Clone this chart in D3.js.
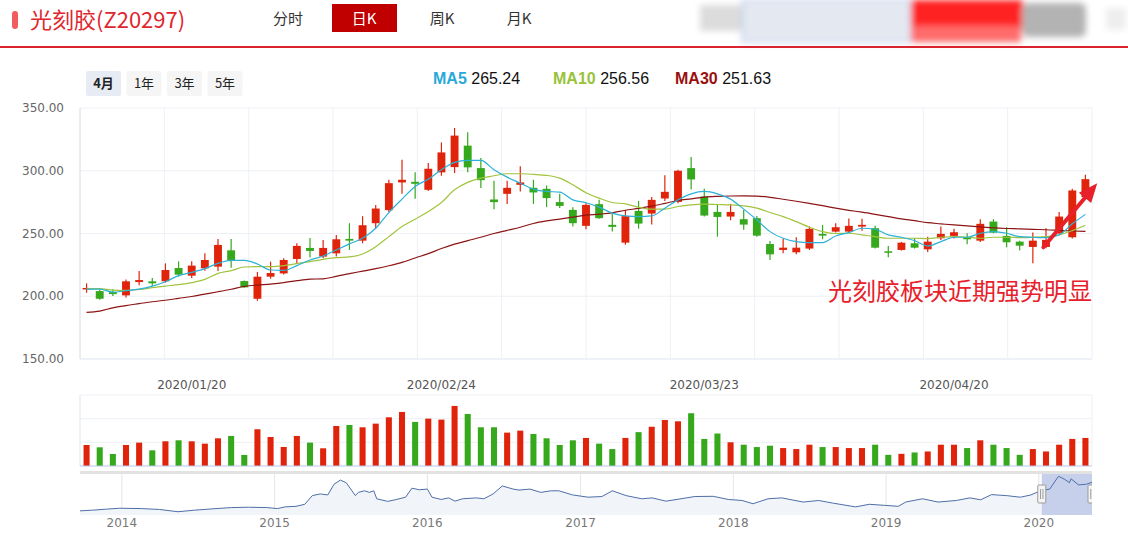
<!DOCTYPE html>
<html>
<head>
<meta charset="utf-8">
<script src="https://cdn.jsdelivr.net/npm/d3@7"></script>
<style>
body { margin: 0; background: #fff; }
svg { display: block; font-family: "Noto Sans CJK SC", "Noto Sans", sans-serif; }
</style>
</head>
<body>
<div id="chart"></div>
<script>
// ---- data ----
var dates = [
  "2020/01/08","2020/01/09","2020/01/10","2020/01/13","2020/01/14","2020/01/15","2020/01/16","2020/01/17","2020/01/20","2020/01/21","2020/01/22","2020/01/23",
  "2020/02/03","2020/02/04","2020/02/05","2020/02/06","2020/02/07","2020/02/10","2020/02/11","2020/02/12","2020/02/13","2020/02/14","2020/02/17","2020/02/18","2020/02/19","2020/02/20","2020/02/21","2020/02/24","2020/02/25","2020/02/26","2020/02/27","2020/02/28",
  "2020/03/02","2020/03/03","2020/03/04","2020/03/05","2020/03/06","2020/03/09","2020/03/10","2020/03/11","2020/03/12","2020/03/13","2020/03/16","2020/03/17","2020/03/18","2020/03/19","2020/03/20","2020/03/23","2020/03/24","2020/03/25","2020/03/26","2020/03/27","2020/03/30","2020/03/31",
  "2020/04/01","2020/04/02","2020/04/03","2020/04/07","2020/04/08","2020/04/09","2020/04/10","2020/04/13","2020/04/14","2020/04/15","2020/04/16","2020/04/17","2020/04/20","2020/04/21","2020/04/22","2020/04/23","2020/04/24","2020/04/27","2020/04/28","2020/04/29","2020/04/30",
  "2020/05/06","2020/05/07"
];
var open = [206.0,204.1,203.3,200.7,211.3,211.9,211.9,222.5,216.4,222.2,223.6,236.6,212.1,198.0,215.6,218.2,229.7,238.5,231.6,234.2,
  245.7,244.3,258.2,268.6,290.7,291.2,284.8,298.7,302.9,320.0,302.1,277.1,281.6,288.8,286.4,285.6,275.0,268.8,256.1,273.4,
  256.9,242.7,268.0,265.9,277.9,275.2,302.1,279.5,267.2,263.5,261.4,262.2,241.6,236.9,235.0,238.0,249.7,251.5,251.5,255.5,
  254.2,235.8,236.9,242.2,237.4,246.2,248.1,247.0,244.3,259.5,248.1,243.5,239.3,239.3,250.2,247.0,279.0];
var high = [210.3,205.0,205.5,213.4,220.1,214.5,226.2,227.8,227.8,234.2,245.7,245.7,212.6,219.3,227.6,230.2,242.2,246.5,244.9,248.9,
  258.2,263.8,272.8,292.8,308.8,298.9,306.1,322.6,334.1,330.6,310.1,292.0,292.0,303.5,292.8,288.3,281.6,271.0,274.2,276.8,
  265.6,268.8,276.0,279.0,296.5,300.8,310.9,285.6,273.4,273.6,268.8,264.0,244.1,245.7,247.0,255.5,256.9,258.2,261.9,261.7,
  256.1,240.1,243.3,246.5,247.5,255.5,253.7,250.2,261.4,261.4,255.0,244.3,250.7,254.2,267.2,285.6,296.8];
var low = [202.8,197.2,200.1,199.1,208.7,208.4,210.8,215.6,214.5,220.4,220.1,222.8,206.8,196.4,214.0,217.4,225.7,230.8,230.2,231.6,
  236.9,242.2,254.2,267.2,281.6,277.6,283.8,296.0,298.1,298.9,286.2,269.4,273.6,283.5,273.6,271.0,270.4,255.5,253.4,261.7,
  251.5,241.1,253.9,257.1,275.8,274.2,285.1,263.5,247.5,260.6,252.9,247.5,228.9,234.2,233.4,236.9,245.4,250.7,250.7,252.1,
  238.0,231.0,236.4,238.0,235.3,244.9,246.0,241.4,243.3,250.2,239.0,236.4,226.2,238.2,249.1,246.0,277.9];
var close = [206.6,198.0,201.7,211.9,212.9,210.3,220.9,217.2,224.4,228.9,240.9,228.9,207.1,215.6,218.5,228.9,240.1,236.1,238.5,245.4,
  244.3,256.6,269.9,290.1,292.8,289.6,301.6,314.6,328.0,302.7,292.5,275.0,286.4,290.7,282.7,278.2,272.0,258.2,272.8,262.2,
  255.3,263.8,257.9,276.8,283.2,300.0,293.1,264.3,263.2,267.2,257.1,248.3,233.4,238.7,238.7,253.7,248.3,255.0,256.1,256.9,
  238.7,234.8,242.7,238.7,243.5,249.7,251.0,245.4,257.7,250.7,243.0,240.3,244.3,244.9,263.5,284.3,293.3];
var volume = [44.4,39.5,25.4,44.4,49.4,33.1,52.2,54.3,52.2,47.2,58.5,63.5,23.3,77.6,61.3,40.2,63.5,49.4,37.4,84.6,
  86.7,81.8,89.5,102.9,114.2,93.1,100.1,98.0,126.9,110.0,81.8,81.8,70.5,74.7,67.7,58.5,44.4,54.3,59.3,47.2,
  35.8,59.3,71.5,82.9,97.2,94.4,111.5,57.2,68.6,50.1,45.0,40.0,42.9,37.9,35.8,45.0,40.0,40.0,37.9,37.9,
  45.0,23.6,25.7,28.6,30.7,45.0,45.0,37.9,54.3,45.0,37.9,23.6,35.8,30.7,45.0,57.2,59.3];
var ma5 = [205.7,205.7,203.3,204.4,205.7,208.1,211.6,216.4,219.0,222.0,226.2,228.6,228.6,225.7,220.9,220.6,224.4,228.9,232.1,236.9,
  241.7,246.2,254.2,266.7,277.4,287.5,293.3,300.8,306.7,308.3,308.3,300.8,294.9,290.1,285.4,283.5,283.0,276.8,274.5,271.0,
  266.2,264.0,263.5,264.0,270.2,276.8,281.6,283.5,281.6,277.4,269.4,260.9,251.5,246.2,243.5,242.7,242.7,248.0,250.7,254.2,
  253.4,248.9,247.0,244.3,240.1,243.5,247.0,247.0,250.2,251.5,250.2,247.5,247.0,246.7,248.9,257.7,265.24];
var ma10 = [206.0,206.0,204.9,204.7,205.5,206.8,208.1,209.2,210.8,213.4,218.2,220.4,223.3,223.6,223.6,224.4,226.0,227.6,229.4,230.8,
  231.3,233.7,239.5,247.5,255.5,261.4,267.5,274.7,284.8,290.7,294.1,296.0,297.6,297.6,297.1,296.3,294.1,288.8,282.5,278.2,
  274.7,273.6,271.0,269.4,269.4,271.5,272.8,273.4,273.1,272.8,272.0,270.2,266.7,263.5,259.5,255.0,251.5,250.0,250.2,248.9,
  247.5,246.2,246.2,246.2,245.9,247.0,247.5,247.0,246.2,247.0,247.0,246.7,247.0,247.5,248.9,252.3,256.56];
var ma30 = [187.2,188.2,190.8,192.6,194.1,195.6,196.8,198.3,199.8,201.7,203.6,205.6,207.8,208.9,209.6,210.9,212.4,213.6,213.9,215.8,
  218.0,220.0,222.0,224.3,227.0,230.5,234.0,238.0,241.5,244.3,247.0,250.0,252.5,255.0,258.0,260.0,261.5,263.0,264.6,265.4,
  266.5,268.5,270.0,271.8,274.0,276.3,277.6,279.0,279.6,279.9,280.0,279.8,278.8,277.3,275.7,274.0,272.2,270.2,268.5,267.0,
  265.3,263.5,261.7,260.2,258.6,257.7,256.8,256.0,255.3,254.5,254.0,253.7,253.3,253.0,252.5,252.0,251.63];

var priceTicks = [150, 200, 250, 300, 350];
var dateTicks = ["2020/01/20", "2020/02/24", "2020/03/23", "2020/04/20"];
var volumeTicks = [0, 50, 100, 150];

// long history for the zoom slider
var navDates = ["2013-09-23","2013-10-23","2013-11-25","2013-12-27","2014-02-17","2014-04-01","2014-05-15","2014-06-24","2014-08-07","2014-09-20",
  "2014-10-30","2014-12-13","2015-01-08","2015-01-26","2015-02-21","2015-03-14","2015-04-01","2015-04-20","2015-05-08","2015-05-23",
  "2015-06-07","2015-06-21","2015-07-13","2015-07-20","2015-08-04","2015-08-15","2015-08-26","2015-09-02","2015-09-28","2015-10-16",
  "2015-11-10","2015-11-25","2015-12-13","2016-01-01","2016-01-12","2016-02-03","2016-02-21","2016-03-07","2016-03-25","2016-04-27",
  "2016-05-15","2016-06-06","2016-06-28","2016-07-24","2016-08-07","2016-09-02","2016-09-28","2016-10-23","2016-11-10","2016-12-13",
  "2017-01-19","2017-02-21","2017-03-18","2017-04-20","2017-05-27","2017-06-21","2017-07-24","2017-08-29","2017-10-01","2017-11-14",
  "2017-12-20","2018-01-22","2018-02-17","2018-03-25","2018-04-27","2018-06-17","2018-07-24","2018-08-26","2018-10-20","2018-11-22",
  "2018-12-28","2019-01-30","2019-02-17","2019-03-29","2019-05-05","2019-06-18","2019-07-20","2019-08-15","2019-09-10","2019-10-16",
  "2019-11-18","2019-12-13","2020-01-05","2020-01-27","2020-02-17","2020-03-03","2020-03-14","2020-03-18","2020-04-05","2020-04-23","2020-05-07"];
var navClose = [37,43,52,60,57,49,29,43,55,66,
  69,66,57,72,77,95,172,187,178,273,
  310,287,172,201,215,201,215,144,121,135,
  158,238,224,230,158,138,152,123,144,152,
  144,187,258,230,221,230,201,215,215,178,
  158,164,215,172,144,152,123,144,164,166,
  138,129,100,144,152,115,129,106,72,95,
  86,77,115,144,115,129,152,135,181,172,
  158,178,215,230,344,316,287,321,267,273,290];

// ---- layout ----
var W = 1128, H = 533;
var plot = { left: 80, right: 1092, top: 108, bottom: 359 };
var vol = { top: 395, bottom: 466 };
var nav = { top: 474, bottom: 515 };
var UP = "#e0230b", DOWN = "#35a81c";

var svg = d3.select("#chart").append("svg").attr("width", W).attr("height", H);
var defs = svg.append("defs");
defs.append("filter").attr("id", "blur").attr("x", "-20%").attr("y", "-20%").attr("width", "140%").attr("height", "140%")
  .append("feGaussianBlur").attr("stdDeviation", 3);
defs.append("clipPath").attr("id", "navclip").append("rect")
  .attr("x", plot.left).attr("y", nav.top).attr("width", plot.right - plot.left).attr("height", nav.bottom - nav.top);

// ---- header ----
svg.append("rect").attr("x", 12).attr("y", 11).attr("width", 6).attr("height", 18).attr("rx", 3).attr("fill", "#f25c5c");
svg.append("text").attr("x", 30).attr("y", 28).attr("fill", "#e0262e").attr("font-size", 22).text("光刻胶(Z20297)");

var tabs = ["分时", "日K", "周K", "月K"];
var tabX = [288, 364, 442, 519];
tabs.forEach(function(t, i) {
  if (i === 1) {
    svg.append("rect").attr("x", tabX[i] - 32).attr("y", 4).attr("width", 65).attr("height", 28).attr("fill", "#c00000");
  }
  svg.append("text").attr("x", tabX[i]).attr("y", 24).attr("text-anchor", "middle").attr("font-size", 15)
    .attr("fill", i === 1 ? "#fff" : "#333").text(t);
});

// blurred stuff top right
var blur = svg.append("g").attr("filter", "url(#blur)");
blur.append("rect").attr("x", 700).attr("y", 5).attr("width", 42).attr("height", 26).attr("fill", "#dcdcdc");
blur.append("rect").attr("x", 742).attr("y", 0).attr("width", 169).attr("height", 42).attr("fill", "#e3e8f1").attr("stroke", "#9cb9e8");
blur.append("rect").attr("x", 911).attr("y", 0).attr("width", 112).attr("height", 28).attr("fill", "#ff2424");
blur.append("rect").attr("x", 911).attr("y", 26).attr("width", 110).attr("height", 16).attr("fill", "#ff6c6c");
blur.append("rect").attr("x", 1022).attr("y", 3).attr("width", 64).attr("height", 34).attr("rx", 6).attr("fill", "#b3b3b3");
blur.append("rect").attr("x", 1106).attr("y", 8).attr("width", 20).attr("height", 22).attr("fill", "#eeeeee");

svg.append("rect").attr("x", 0).attr("y", 46).attr("width", W).attr("height", 2).attr("fill", "#d9232d");

// range buttons
var ranges = ["4月", "1年", "3年", "5年"];
ranges.forEach(function(r, i) {
  var bx = 86 + i * 40.5;
  svg.append("rect").attr("x", bx).attr("y", 71).attr("width", 35).attr("height", 25).attr("rx", 2)
    .attr("fill", i === 0 ? "#e6ebf4" : "#f5f5f5");
  svg.append("text").attr("x", bx + 17.5).attr("y", 88).attr("text-anchor", "middle").attr("font-size", 13)
    .attr("font-weight", i === 0 ? "bold" : "normal").attr("fill", "#222").text(r);
});

// legend
var legend = [
  { name: "MA5", value: ma5[ma5.length - 1], color: "#2aa9d9", x: 433 },
  { name: "MA10", value: ma10[ma10.length - 1], color: "#99c23a", x: 553 },
  { name: "MA30", value: ma30[ma30.length - 1], color: "#9a1010", x: 675 }
];
legend.forEach(function(l) {
  var t = svg.append("text").attr("x", l.x).attr("y", 84).attr("font-size", 16).attr("font-family", "'Liberation Sans', Arial, sans-serif");
  t.append("tspan").attr("font-weight", "bold").attr("fill", l.color).text(l.name);
  t.append("tspan").attr("fill", "#111").text(" " + l.value.toFixed(2));
});

// ---- scales ----
var n = dates.length;
var x = d3.scaleLinear().domain([-0.5, n - 0.5]).range([plot.left, plot.right]);
var y = d3.scaleLinear().domain([150, 350]).range([plot.bottom, plot.top]);
var yv = d3.scaleLinear().domain([0, 150]).range([vol.bottom, vol.top]);
var step = x(1) - x(0);

// ---- main grid ----
var grid = svg.append("g");
priceTicks.forEach(function(t) {
  grid.append("line").attr("x1", plot.left).attr("x2", plot.right).attr("y1", y(t)).attr("y2", y(t))
    .attr("stroke", t === 150 ? "#dfe5ee" : "#edf0f5");
  grid.append("text").attr("x", 64).attr("y", y(t) + 4).attr("text-anchor", "end").attr("font-size", 12)
    .attr("font-family", "'DejaVu Sans', sans-serif").attr("fill", "#666").text(t.toFixed(2));
});
d3.range(1, 13).forEach(function(k) {
  var gx = plot.left + k * (plot.right - plot.left) / 12;
  grid.append("line").attr("x1", gx).attr("x2", gx).attr("y1", plot.top).attr("y2", plot.bottom)
    .attr("stroke", "#edf0f5");
});
grid.append("line").attr("x1", plot.left).attr("x2", plot.left).attr("y1", plot.top).attr("y2", plot.bottom)
  .attr("stroke", "#d3dbe8");

// date labels
dateTicks.forEach(function(d) {
  var i = dates.indexOf(d);
  svg.append("text").attr("x", x(i)).attr("y", 389).attr("text-anchor", "middle").attr("font-size", 12)
    .attr("font-family", "'DejaVu Sans', sans-serif").attr("fill", "#555").text(d);
});

// ---- candles ----
var idx = d3.range(n);
var cg = svg.append("g");
cg.selectAll("line.wick").data(idx).enter().append("line")
  .attr("x1", function(i) { return x(i); }).attr("x2", function(i) { return x(i); })
  .attr("y1", function(i) { return y(high[i]); }).attr("y2", function(i) { return y(low[i]); })
  .attr("stroke", function(i) { return close[i] >= open[i] ? UP : DOWN; }).attr("stroke-width", 1.2);
var bw = step * 0.6;
cg.selectAll("rect.body").data(idx).enter().append("rect")
  .attr("x", function(i) { return x(i) - bw / 2; })
  .attr("y", function(i) { return y(Math.max(open[i], close[i])); })
  .attr("width", bw)
  .attr("height", function(i) { return Math.max(1.5, Math.abs(y(open[i]) - y(close[i]))); })
  .attr("fill", function(i) { return close[i] >= open[i] ? UP : DOWN; });

// ---- moving averages ----
var line = d3.line().x(function(d, i) { return x(i); }).y(function(d) { return y(d); }).curve(d3.curveMonotoneX);
[[ma30, "#8c1414"], [ma10, "#a0c43c"], [ma5, "#2bb1d8"]].forEach(function(s) {
  svg.append("path").datum(s[0]).attr("fill", "none").attr("stroke", s[1]).attr("stroke-width", 1.2).attr("d", line);
});

// ---- annotation ----
var ann = "#e8202a";
var a0 = [x(72.8), y(239)], a1 = [x(76.9), y(290)];
var ang = Math.atan2(a1[1] - a0[1], a1[0] - a0[0]);
var headLen = 19, headW = 8;
var hb = [a1[0] - headLen * Math.cos(ang), a1[1] - headLen * Math.sin(ang)];
svg.append("line").attr("x1", a0[0]).attr("y1", a0[1]).attr("x2", hb[0]).attr("y2", hb[1])
  .attr("stroke", ann).attr("stroke-width", 4).attr("stroke-linecap", "round");
svg.append("path").attr("fill", ann).attr("d", "M" + a1[0] + "," + a1[1] +
  "L" + (hb[0] + headW * Math.sin(ang)) + "," + (hb[1] - headW * Math.cos(ang)) +
  "L" + (hb[0] - headW * Math.sin(ang)) + "," + (hb[1] + headW * Math.cos(ang)) + "Z");
svg.append("text").attr("x", 828).attr("y", 300).attr("font-size", 24).attr("fill", ann).text("光刻胶板块近期强势明显");

// ---- volume ----
var vg = svg.append("g");
volumeTicks.slice(1).forEach(function(t) {
  vg.append("line").attr("x1", plot.left).attr("x2", plot.right).attr("y1", yv(t)).attr("y2", yv(t)).attr("stroke", "#edf0f5");
});
vg.append("line").attr("x1", plot.left).attr("x2", plot.left).attr("y1", vol.top).attr("y2", vol.bottom).attr("stroke", "#dfe5ee");
vg.append("line").attr("x1", plot.right).attr("x2", plot.right).attr("y1", vol.top).attr("y2", vol.bottom).attr("stroke", "#edf0f5");
var vw = step * 0.46;
vg.selectAll("rect").data(idx).enter().append("rect")
  .attr("x", function(i) { return x(i) - vw / 2; })
  .attr("y", function(i) { return yv(volume[i]); })
  .attr("width", vw)
  .attr("height", function(i) { return yv(0) - yv(volume[i]); })
  .attr("fill", function(i) { return close[i] >= open[i] ? UP : DOWN; });
vg.append("line").attr("x1", plot.left).attr("x2", plot.right).attr("y1", vol.bottom).attr("y2", vol.bottom)
  .attr("stroke", "#b9c7e6");

// ---- navigator ----
var parseNav = d3.timeParse("%Y-%m-%d"), parseDay = d3.timeParse("%Y/%m/%d");
var navData = navDates.map(function(d, i) { return { t: parseNav(d), v: navClose[i] }; });
var nx = d3.scaleTime().domain(d3.extent(navData, function(d) { return d.t; })).range([plot.left, plot.right]);
var ny = d3.scaleLinear().domain([0, 364]).range([nav.bottom, nav.top]);
var ng = svg.append("g");
ng.append("rect").attr("x", plot.left).attr("y", nav.top - 3).attr("width", plot.right - plot.left).attr("height", 3).attr("fill", "#e2e2e2");
nx.ticks(d3.timeYear.every(1)).forEach(function(t) {
  ng.append("line").attr("x1", nx(t)).attr("x2", nx(t)).attr("y1", nav.top).attr("y2", nav.bottom).attr("stroke", "#e3e6ea");
  ng.append("text").attr("x", nx(t)).attr("y", 527).attr("text-anchor", "middle").attr("font-size", 12)
    .attr("font-family", "'DejaVu Sans', sans-serif").attr("fill", "#777").text(d3.timeFormat("%Y")(t));
});
var navG = ng.append("g").attr("clip-path", "url(#navclip)");
navG.append("path").datum(navData).attr("fill", "#f1f4f8")
  .attr("d", d3.area().x(function(d) { return nx(d.t); }).y0(nav.bottom).y1(function(d) { return ny(d.v); }));
var s0 = nx(parseDay(dates[0])), s1 = Math.min(plot.right, nx(parseDay(dates[n - 1])));
navG.append("rect").attr("x", s0).attr("y", nav.top).attr("width", s1 - s0).attr("height", nav.bottom - nav.top)
  .attr("fill", "#c6d0ea");
navG.append("path").datum(navData).attr("fill", "none").attr("stroke", "#4e6fa8").attr("stroke-width", 1)
  .attr("d", d3.line().x(function(d) { return nx(d.t); }).y(function(d) { return ny(d.v); }));
[s0, s1].forEach(function(hx) {
  var h = navG.append("g");
  h.append("rect").attr("x", hx - 4).attr("y", 485).attr("width", 8).attr("height", 18).attr("rx", 1)
    .attr("fill", "#f4f4f4").attr("stroke", "#9a9a9a");
  h.append("line").attr("x1", hx - 1.2).attr("x2", hx - 1.2).attr("y1", 489).attr("y2", 499).attr("stroke", "#999");
  h.append("line").attr("x1", hx + 1.2).attr("x2", hx + 1.2).attr("y1", 489).attr("y2", 499).attr("stroke", "#999");
});
</script>
</body>
</html>
